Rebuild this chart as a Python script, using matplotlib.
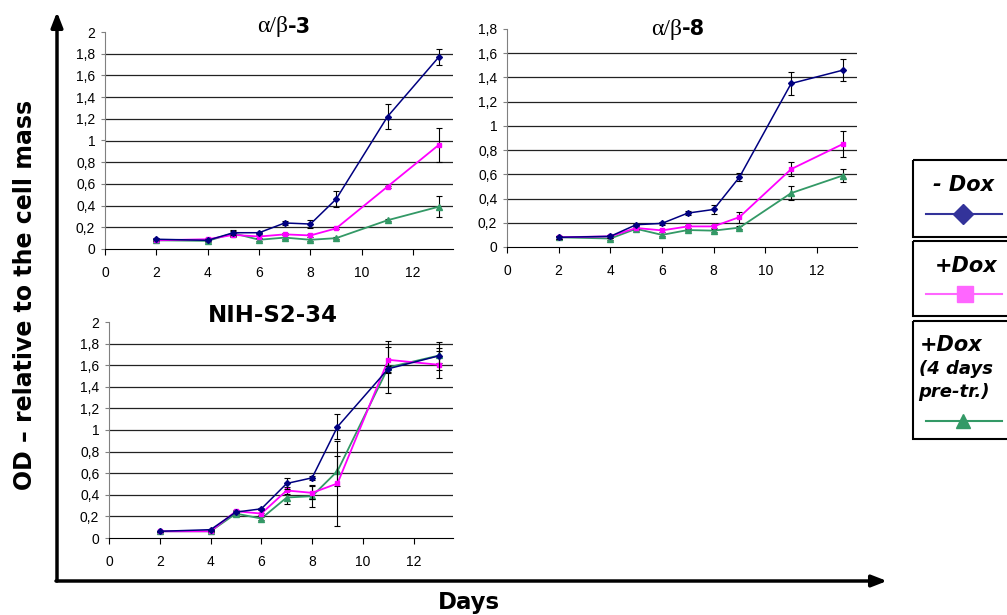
import matplotlib
matplotlib.use("Agg")
import matplotlib.pyplot as plt
from matplotlib.patches import Rectangle
from matplotlib.ticker import FuncFormatter, MultipleLocator

# days of measurement (same for all three panels)
days = [2, 4, 5, 6, 7, 8, 9, 11, 13]

# alpha/beta-3
ab3_minus = [0.09, 0.08, 0.15, 0.15, 0.24, 0.23, 0.46, 1.22, 1.77]
ab3_minus_err = [0.01, 0.01, 0.02, 0.01, 0.02, 0.04, 0.07, 0.115, 0.077]
ab3_plus = [0.08, 0.09, 0.13, 0.115, 0.135, 0.125, 0.19, 0.575, 0.96]
ab3_plus_err = [0.01, 0.01, 0.01, 0.01, 0.01, 0.01, 0.01, 0.01, 0.155]
ab3_pre = [0.08, 0.075, 0.145, 0.085, 0.105, 0.085, 0.10, 0.265, 0.39]
ab3_pre_err = [0.01, 0.01, 0.03, 0.01, 0.01, 0.01, 0.01, 0.01, 0.095]

# alpha/beta-8
ab8_minus = [0.08, 0.088, 0.184, 0.195, 0.28, 0.31, 0.577, 1.35, 1.46]
ab8_minus_err = [0.01, 0.01, 0.01, 0.01, 0.015, 0.035, 0.03, 0.095, 0.09]
ab8_plus = [0.08, 0.088, 0.157, 0.137, 0.17, 0.17, 0.247, 0.643, 0.85]
ab8_plus_err = [0.01, 0.01, 0.01, 0.01, 0.01, 0.01, 0.045, 0.055, 0.107]
ab8_pre = [0.08, 0.07, 0.15, 0.10, 0.14, 0.135, 0.16, 0.445, 0.59]
ab8_pre_err = [0.01, 0.01, 0.01, 0.01, 0.01, 0.01, 0.01, 0.06, 0.05]

# NIH-S2-34
nih_minus = [0.062, 0.077, 0.24, 0.27, 0.505, 0.557, 1.03, 1.567, 1.687]
nih_minus_err = [0.005, 0.01, 0.01, 0.01, 0.05, 0.02, 0.115, 0.03, 0.13]
nih_plus = [0.062, 0.062, 0.248, 0.226, 0.44, 0.418, 0.505, 1.65, 1.604]
nih_plus_err = [0.005, 0.005, 0.01, 0.01, 0.03, 0.06, 0.39, 0.12, 0.125]
nih_pre = [0.062, 0.062, 0.226, 0.18, 0.375, 0.387, 0.62, 1.58, 1.69]
nih_pre_err = [0.005, 0.005, 0.01, 0.01, 0.06, 0.1, 0.14, 0.24, 0.07]

BLUE = "#000080"
MAGENTA = "#ff00ff"
GREEN = "#339966"

tick_font = ["Liberation Sans Narrow", "Liberation Sans", "DejaVu Sans"]
greek_font = ["Liberation Serif", "DejaVu Serif"]

W, H = 1007, 615
fig = plt.figure(figsize=(W / 100, H / 100), dpi=100)


def px_axes(left, top, right, bottom):
    return fig.add_axes([left / W, 1 - bottom / H, (right - left) / W, (bottom - top) / H])


def panel(ax, ymax, minus, minus_err, plus, plus_err, pre, pre_err):
    ax.set_xlim(0, 13.55)
    ax.set_ylim(0, ymax)
    ax.yaxis.set_major_locator(MultipleLocator(0.2))
    ax.xaxis.set_major_locator(MultipleLocator(2))
    ax.yaxis.set_major_formatter(FuncFormatter(lambda v, p: f"{v:.1f}".rstrip("0").rstrip(".").replace(".", ",")))
    ax.xaxis.set_major_formatter(FuncFormatter(lambda v, p: f"{v:g}"))
    for y in [0.2 * i for i in range(1, int(round(ymax / 0.2)))]:
        ax.axhline(y, color="#222222", lw=0.9, zorder=0)
    for s in ["top", "right"]:
        ax.spines[s].set_visible(False)
    ax.spines["left"].set_color("#808080")
    ax.spines["bottom"].set_color("black")
    ax.tick_params(axis="y", length=3, width=0.8, color="#808080", pad=4, labelsize=10)
    ax.tick_params(axis="x", length=4, width=0.8, color="black", pad=8, labelsize=10)
    for lab in ax.get_xticklabels() + ax.get_yticklabels():
        lab.set_family(tick_font)

    ekw = dict(ecolor="black", elinewidth=0.8, capsize=2.5, capthick=0.8)
    ax.errorbar(days, pre, yerr=pre_err, color=GREEN, lw=1.3, marker="^", ms=4, zorder=3, **ekw)
    ax.errorbar(days, plus, yerr=plus_err, color=MAGENTA, lw=1.3, marker="s", ms=3.5, zorder=4, **ekw)
    ax.errorbar(days, minus, yerr=minus_err, color=BLUE, lw=1.1, marker="D", ms=3, zorder=5, **ekw)


def greek_title(ax, x, y, suffix):
    t = ax.text(x, y, "α/β", transform=ax.transAxes, ha="right", va="center",
                fontsize=17, family=greek_font)
    ax.annotate(suffix, xy=(1, 0.5), xycoords=t, va="center", ha="left",
                fontsize=15, fontweight="bold")


ax1 = px_axes(105, 32, 453, 249)
panel(ax1, 2.0, ab3_minus, ab3_minus_err, ab3_plus, ab3_plus_err, ab3_pre, ab3_pre_err)
greek_title(ax1, 0.525, 1.025, "-3")

ax2 = px_axes(507, 29, 857, 247)
panel(ax2, 1.8, ab8_minus, ab8_minus_err, ab8_plus, ab8_plus_err, ab8_pre, ab8_pre_err)
greek_title(ax2, 0.5, 1.0, "-8")

ax3 = px_axes(109, 322, 453, 538)
panel(ax3, 2.0, nih_minus, nih_minus_err, nih_plus, nih_plus_err, nih_pre, nih_pre_err)
ax3.text(0.475, 1.03, "NIH-S2-34", transform=ax3.transAxes, ha="center", va="center",
         fontsize=16.5, fontweight="bold")

# overlay in pixel coordinates for the big arrows, labels and legend boxes
ov = fig.add_axes([0, 0, 1, 1], facecolor="none")
ov.set_xlim(0, W)
ov.set_ylim(H, 0)
ov.axis("off")

arrow = dict(arrowstyle="-|>,head_length=0.9,head_width=0.35", lw=2.5, color="black",
             shrinkA=0, shrinkB=0)
ov.annotate("", xy=(57, 12), xytext=(57, 581), arrowprops=arrow)
ov.annotate("", xy=(887, 581), xytext=(56, 581), arrowprops=arrow)

ov.text(25, 295, "OD – relative to the cell mass", rotation=90, ha="center", va="center",
        fontsize=17, fontweight="bold")
ov.text(469, 602, "Days", ha="center", va="center", fontsize=16.5, fontweight="bold")

# legend boxes
boxes = [(160, 237), (241, 316), (321, 439)]
for top, bottom in boxes:
    ov.add_patch(Rectangle((913, top), 100, bottom - top, fill=False, lw=1.5, ec="black", clip_on=False))

lkw = dict(fontweight="bold", style="italic", va="center")
ov.text(964, 185, "- Dox", ha="center", fontsize=15, **lkw)
ov.plot([926, 1002], [214, 214], color="#33339a", lw=1.5)
ov.plot([963], [214], marker="D", ms=10, color="#33339a")

ov.text(966, 266, "+Dox", ha="center", fontsize=15, **lkw)
ov.plot([926, 1002], [294, 294], color="#ff66ff", lw=1.5)
ov.plot([965], [294], marker="s", ms=12, color="#ff66ff")

ov.text(920, 345, "+Dox", ha="left", fontsize=15, **lkw)
ov.text(919, 369, "(4 days", ha="left", fontsize=13, **lkw)
ov.text(918, 392, "pre-tr.)", ha="left", fontsize=13, **lkw)
ov.plot([926, 1002], [421, 421], color="#339966", lw=1.5)
ov.plot([963], [421], marker="^", ms=10, color="#339966")

fig.savefig("out.png", dpi=100, facecolor="white")
